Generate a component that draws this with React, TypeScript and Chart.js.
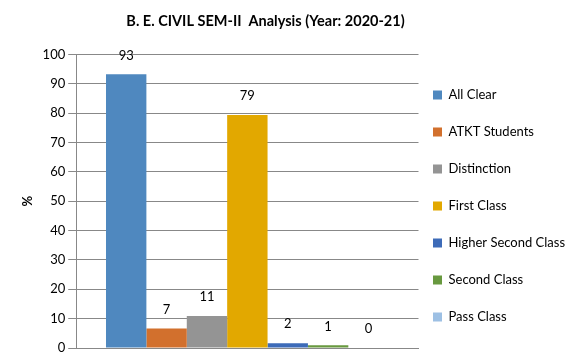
import React, { useEffect, useRef } from "react";
import { Chart, registerables } from "chart.js";

Chart.register(...registerables);

const categories = ["B. E. CIVIL SEM-II"];
const seriesNames = [
  "All Clear",
  "ATKT Students",
  "Distinction",
  "First Class",
  "Higher Second Class",
  "Second Class",
  "Pass Class",
];
const seriesValues = [93.2, 6.6, 10.9, 79.4, 1.6, 0.9, 0];
const seriesColors = [
  "#4F88BF",
  "#D2702D",
  "#949494",
  "#E2A800",
  "#3D6BB8",
  "#68993F",
  "#9DC0E4",
];
const yTicks = [0, 10, 20, 30, 40, 50, 60, 70, 80, 90, 100];

const FONT = "Lato, 'Open Sans', sans-serif";

const valueLabels = {
  id: "valueLabels",
  afterDatasetsDraw(chart: any) {
    const ctx = chart.ctx;
    ctx.save();
    ctx.font = `13px ${FONT}`;
    ctx.fillStyle = "#000";
    ctx.textAlign = "center";
    ctx.textBaseline = "middle";
    chart.data.datasets.forEach((ds: any, i: number) => {
      const meta = chart.getDatasetMeta(i);
      meta.data.forEach((bar: any, j: number) => {
        const v = ds.data[j];
        ctx.fillText(String(Math.round(v)), bar.x, bar.y - 19);
      });
    });
    ctx.restore();
  },
};

// nudge title and legend boxes to where the reference places them
const placeBoxes = {
  id: "placeBoxes",
  afterLayout(chart: any) {
    if (chart.titleBlock) {
      chart.titleBlock.left = 0;
      chart.titleBlock.right = 531;
    }
    if (chart.legend) {
      const h = chart.legend.height;
      chart.legend.left = 409;
      chart.legend.right = 574;
      chart.legend.width = 165;
      chart.legend.top = 64.5;
      chart.legend.bottom = 64.5 + h;
    }
  },
};

export default function App() {
  const ref = useRef<HTMLCanvasElement>(null);
  useEffect(() => {
    document.body.style.margin = "0";
    const chart = new Chart(ref.current!, {
      type: "bar",
      data: {
        labels: categories,
        datasets: seriesNames.map((name, i) => ({
          label: name,
          data: [seriesValues[i]],
          backgroundColor: seriesColors[i],
          borderWidth: 0,
          barPercentage: 1,
          categoryPercentage: 0.826,
        })),
      },
      options: {
        responsive: false,
        animation: false,
        layout: { padding: { left: 0, right: 16, top: 0, bottom: 7 } },
        plugins: {
          title: {
            display: true,
            text: "B. E. CIVIL SEM-II  Analysis (Year: 2020-21)",
            color: "#000",
            font: { family: FONT, size: 14.5, weight: "bold" },
            padding: { top: 13, bottom: 24 },
          },
          legend: {
            position: "right",
            align: "start",
            labels: {
              boxWidth: 9,
              boxHeight: 9,
              padding: 24,
              color: "#000",
              font: { family: FONT, size: 13 },
            },
          },
          tooltip: { enabled: false },
        },
        scales: {
          x: {
            ticks: { display: false },
            grid: { display: false },
            border: { display: true, color: "#888" },
          },
          y: {
            min: 0,
            max: 100,
            afterBuildTicks(axis: any) {
              axis.ticks = yTicks.map((v) => ({ value: v }));
            },
            ticks: {
              color: "#000",
              font: { family: FONT, size: 13 },
              padding: 3,
            },
            grid: { color: "#888", tickLength: 8 },
            border: { color: "#888" },
            title: {
              display: true,
              text: "%",
              color: "#000",
              font: { family: FONT, size: 13, weight: "bold" },
              padding: { top: 20, bottom: 4 },
            },
          },
        },
      },
      plugins: [valueLabels, placeBoxes],
    });
    return () => chart.destroy();
  }, []);
  return <canvas ref={ref} width={574} height={363} />;
}
